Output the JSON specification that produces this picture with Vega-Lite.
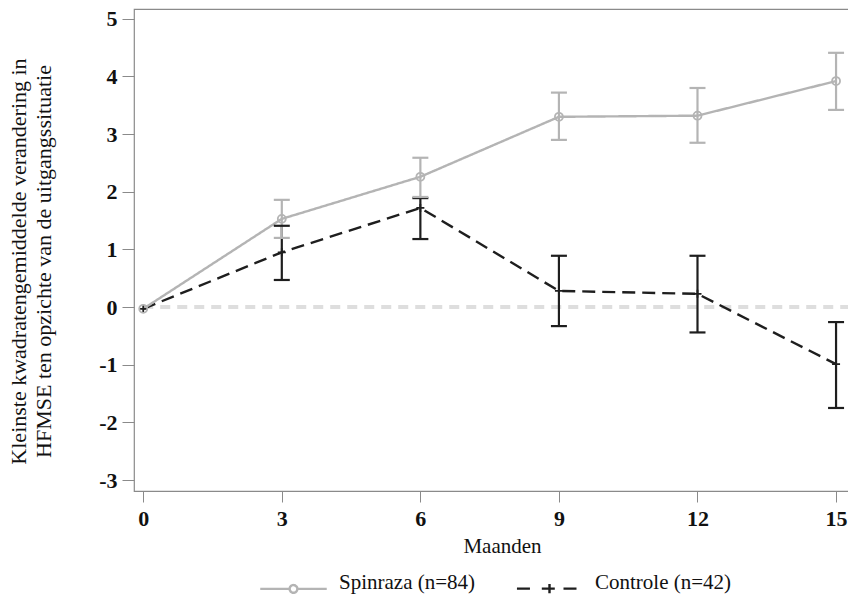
{
  "$schema": "https://vega.github.io/schema/vega-lite/v6.json",
  "width": 736,
  "height": 482,
  "autosize": {"type": "none"},
  "padding": {"left": 134, "top": 9, "right": 0, "bottom": 106},
  "config": {
    "font": "Liberation Serif",
    "view": {"stroke": "#8a8a8a", "strokeWidth": 1.2}
  },
  "datasets": {
    "series": [
      {"month": 0, "group": "Controle (n=42)", "mean": -0.03, "lo": null, "hi": null},
      {"month": 3, "group": "Controle (n=42)", "mean": 0.95, "lo": 0.47, "hi": 1.41},
      {"month": 6, "group": "Controle (n=42)", "mean": 1.72, "lo": 1.18, "hi": 1.89},
      {"month": 9, "group": "Controle (n=42)", "mean": 0.28, "lo": -0.33, "hi": 0.89},
      {"month": 12, "group": "Controle (n=42)", "mean": 0.23, "lo": -0.44, "hi": 0.89},
      {"month": 15, "group": "Controle (n=42)", "mean": -0.99, "lo": -1.75, "hi": -0.26},
      {"month": 0, "group": "Spinraza (n=84)", "mean": -0.03, "lo": null, "hi": null},
      {"month": 3, "group": "Spinraza (n=84)", "mean": 1.53, "lo": 1.2, "hi": 1.86},
      {"month": 6, "group": "Spinraza (n=84)", "mean": 2.26, "lo": 1.91, "hi": 2.59},
      {"month": 9, "group": "Spinraza (n=84)", "mean": 3.3, "lo": 2.9, "hi": 3.72},
      {"month": 12, "group": "Spinraza (n=84)", "mean": 3.32, "lo": 2.85, "hi": 3.8},
      {"month": 15, "group": "Spinraza (n=84)", "mean": 3.92, "lo": 3.42, "hi": 4.41}
    ],
    "ref": [{"x": 0, "x2": 15.7, "y": 0}]
  },
  "layer": [
    {
      "data": {"name": "ref"},
      "mark": {"type": "rule", "color": "#dedede", "strokeWidth": 4, "strokeDash": [10, 7]},
      "encoding": {
        "x": {"field": "x", "type": "quantitative"},
        "x2": {"field": "x2"},
        "y": {"field": "y", "type": "quantitative"}
      }
    },
    {
      "data": {"name": "series"},
      "mark": {"type": "line", "strokeWidth": 2.4},
      "encoding": {
        "x": {
          "field": "month", "type": "quantitative",
          "scale": {"domain": [-0.2, 15.735], "nice": false, "zero": false},
          "axis": {
            "values": [0, 3, 6, 9, 12, 15],
            "domain": false, "grid": false, "format": "d",
            "tickColor": "#8a8a8a", "tickSize": 11,
            "labelFont": "Liberation Serif", "labelFontWeight": "bold", "labelFontSize": 22,
            "labelColor": "#111", "labelPadding": 6, "labelFlush": false,
            "title": "Maanden", "titleFont": "Liberation Serif", "titleFontWeight": "normal",
            "titleFontSize": 21, "titleColor": "#111", "titlePadding": 6
          }
        },
        "y": {
          "field": "mean", "type": "quantitative",
          "scale": {"domain": [-3.19, 5.17], "nice": false, "zero": false},
          "axis": {
            "values": [-3, -2, -1, 0, 1, 2, 3, 4, 5],
            "domain": false, "grid": false,
            "labelExpr": "'' + datum.value",
            "tickColor": "#8a8a8a", "tickSize": 12,
            "labelFont": "Liberation Serif", "labelFontWeight": "bold", "labelFontSize": 22,
            "labelColor": "#111", "labelPadding": 5,
            "title": ["Kleinste kwadratengemiddelde verandering in", "HFMSE ten opzichte van de uitgangssituatie"],
            "titleFont": "Liberation Serif", "titleFontWeight": "normal", "titleFontSize": 22,
            "titleColor": "#111", "titleLineHeight": 25,
            "titleX": -109, "titleY": 252, "titleAngle": 270, "titleAlign": "center", "titleBaseline": "alphabetic"
          }
        },
        "color": {
          "field": "group", "type": "nominal",
          "scale": {"domain": ["Spinraza (n=84)", "Controle (n=42)"], "range": ["#b4b4b4", "#1e1e1e"]},
          "legend": {
            "title": null,
            "orient": "none",
            "legendX": 123,
            "legendY": 543,
            "direction": "horizontal",
            "padding": 0,
            "symbolSize": 4900,
            "symbolStrokeWidth": 2.4,
            "symbolFillColor": "transparent",
            "labelFont": "Liberation Serif",
            "labelFontSize": 21,
            "labelColor": "#111",
            "labelOffset": 9,
            "labelBaseline": "alphabetic",
            "columnPadding": 36,
            "encode": {
              "symbols": {
                "update": {
                  "shape": [
                    {"test": "datum.value === 'Spinraza (n=84)'", "value": "M-0.95,0H-0.11M0.11,0H0.95M-0.11,0A0.11,0.11 0 1,1 0.11,0A0.11,0.11 0 1,1 -0.11,0"},
                    {"value": "M-0.93,0H-0.4M-0.22,0H0.22M0,-0.13V0.13M0.4,0H0.93"}
                  ],
                  "fill": {"value": "transparent"},
                  "fillOpacity": {"value": 0},
                  "strokeDash": {"value": [1, 0]}
                }
              }
            }
          }
        },
        "strokeDash": {
          "field": "group", "type": "nominal",
          "scale": {"domain": ["Spinraza (n=84)", "Controle (n=42)"], "range": [[1, 0], [13, 7]]},
          "legend": null
        }
      }
    },
    {
      "data": {"name": "series"},
      "transform": [{"filter": "isValid(datum.lo)"}],
      "mark": {"type": "rule", "strokeWidth": 2.2},
      "encoding": {
        "x": {"field": "month", "type": "quantitative"},
        "y": {"field": "lo", "type": "quantitative"},
        "y2": {"field": "hi"},
        "color": {"field": "group", "type": "nominal"}
      }
    },
    {
      "data": {"name": "series"},
      "transform": [{"filter": "isValid(datum.lo)"}, {"fold": ["lo", "hi"], "as": ["end", "val"]}],
      "mark": {"type": "tick", "orient": "horizontal", "size": 16, "thickness": 2.2, "opacity": 1},
      "encoding": {
        "x": {"field": "month", "type": "quantitative"},
        "y": {"field": "val", "type": "quantitative"},
        "color": {"field": "group", "type": "nominal"}
      }
    },
    {
      "data": {"name": "series"},
      "transform": [{"filter": "datum.group === 'Controle (n=42)'"}],
      "mark": {"type": "point", "filled": false, "shape": "M-1,0H1M0,-1V1", "size": 64, "strokeWidth": 1.8, "opacity": 1},
      "encoding": {
        "x": {"field": "month", "type": "quantitative"},
        "y": {"field": "mean", "type": "quantitative"},
        "color": {"field": "group", "type": "nominal"}
      }
    },
    {
      "data": {"name": "series"},
      "transform": [{"filter": "datum.group === 'Spinraza (n=84)'"}],
      "mark": {"type": "point", "filled": false, "shape": "circle", "size": 64, "strokeWidth": 1.8, "opacity": 1},
      "encoding": {
        "x": {"field": "month", "type": "quantitative"},
        "y": {"field": "mean", "type": "quantitative"},
        "color": {"field": "group", "type": "nominal"}
      }
    }
  ]
}
